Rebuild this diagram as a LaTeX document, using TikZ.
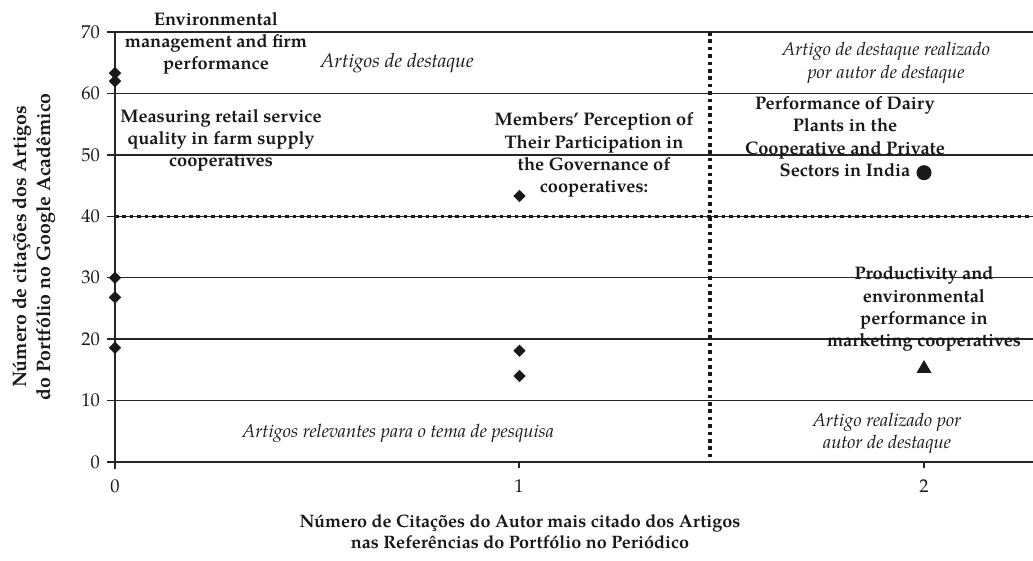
\documentclass[tikz,border=0pt]{standalone}
\usepackage{fontspec}
\setmainfont{TeX Gyre Pagella}
\usetikzlibrary{shapes.geometric}
\begin{document}
\begin{tikzpicture}[x=1pt,y=-1pt,
  gridline/.style={draw=black!85,line width=1.3pt},
  dotsline/.style={draw=black!90,line width=3.5pt,dash pattern=on 3.6pt off 3.8pt},
  lab/.style={font=\bfseries\fontsize{18.2}{22.2}\selectfont,align=center,text=black!90,inner sep=0pt},
  ital/.style={font=\itshape\fontsize{18.4}{22.5}\selectfont,align=center,text=black!90,inner sep=0pt},
  ticklab/.style={font=\fontsize{18.5}{20}\selectfont,text=black!90,inner sep=0pt},
  axtitle/.style={font=\bfseries\fontsize{18}{21}\selectfont,align=center,text=black!90,inner sep=0pt},
  ytitle/.style={font=\bfseries\fontsize{19.5}{24}\selectfont,align=center,text=black!90,inner sep=0pt},
  dmark/.style={diamond,fill=black!90,inner sep=0pt,minimum width=12.5pt,minimum height=12.5pt},
  cmark/.style={circle,fill=black!90,inner sep=0pt,minimum size=15pt},
  tmark/.style={regular polygon,regular polygon sides=3,fill=black!90,inner sep=0pt,minimum size=17.3pt}]
\useasboundingbox (0,0) rectangle (1033,560);

% grid lines and axes
\foreach \v in {10,20,30,50,60,70}{
  \draw[gridline] (107,{462-6.142857*\v}) -- (1033,{462-6.142857*\v});
}
\draw[gridline] (107,216.29) -- (1033,216.29);
\draw[dotsline] (115,216.29) -- (1033,216.29);
\draw[gridline] (107,462) -- (1033,462);
\draw[gridline] (115,32) -- (115,469);
\draw[gridline] (519,462) -- (519,468);
\draw[gridline] (924,462) -- (924,468);
\draw[dotsline] (710,32) -- (710,462);

% y tick labels
\foreach \v in {0,10,...,70}{
  \node[ticklab,anchor=east] (yl\v) at (100,{462-6.142857*\v}) {\v};
}
% x tick labels
\node[ticklab] (xl0) at (115,486) {0};
\node[ticklab] (xl1) at (519,486) {1};
\node[ticklab] (xl2) at (924,486) {2};

% axis titles
\node[axtitle] (xt) at (520,532) {Número de Citações do Autor mais citado dos Artigos\\nas Referências do Portfólio no Periódico};
\node[ytitle,rotate=90] (yt) at (34,247) {Número de citações dos Artigos\\do Portfólio no Google Acadêmico};

% data points
\begin{scope}[shift={(115,462)},x=404.5pt,y=6.142857pt]
  \node[dmark] (p1) at (0,63.3) {};
  \node[dmark] (p2) at (0,62) {};
  \node[dmark] (p3) at (0,30) {};
  \node[dmark] (p4) at (0,26.8) {};
  \node[dmark] (p5) at (0,18.6) {};
  \node[dmark] (p6) at (1,43.3) {};
  \node[dmark] (p7) at (1,18.1) {};
  \node[dmark] (p8) at (1,14) {};
  \node[cmark] (p9) at (2,47.1) {};
  \node[tmark] (p10) at (2,15.2) {};
\end{scope}

% labels
\node[lab] (l1) at (216,43.5) {Environmental\\management and firm\\performance};
\node[lab] (l2) at (221,140.5) {Measuring retail service\\quality in farm supply\\cooperatives};
\node[lab] (l3) at (594,155) {Members’ Perception of\\Their Participation in\\the Governance of\\cooperatives:};
\node[lab] (l4) at (845,136.5) {Performance of Dairy\\Plants in the\\Cooperative and Private\\Sectors in India};
\node[lab] (l5) at (924,309) {Productivity and\\environmental\\performance in\\marketing cooperatives};

\node[ital,font=\itshape\fontsize{19.5}{22.5}\selectfont] (q1) at (397,63) {Artigos de destaque};
\node[ital] (q2) at (886,63) {Artigo de destaque realizado\\por autor de destaque};
\node[ital] (q3) at (398,433) {Artigos relevantes para o tema de pesquisa};
\node[ital] (q4) at (887,433.5) {Artigo realizado por\\autor de destaque};
\end{tikzpicture}
\end{document}
